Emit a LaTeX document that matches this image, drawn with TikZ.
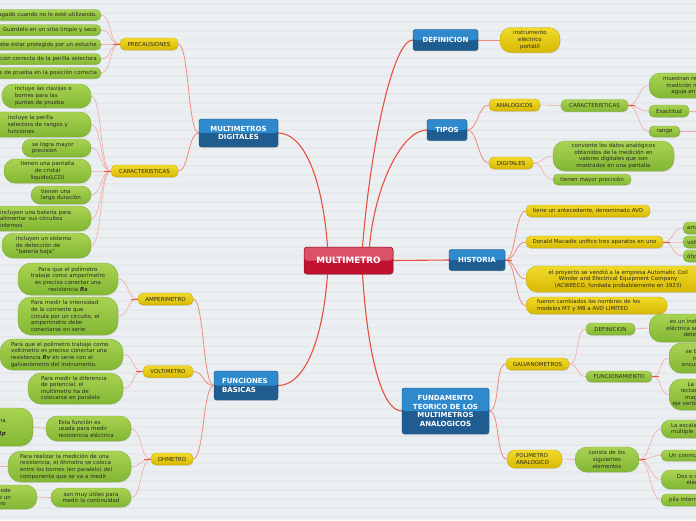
\documentclass[tikz,border=0pt]{standalone}
\usepackage{fontspec}
\setmainfont{DejaVu Sans}
\usetikzlibrary{shadows}
\definecolor{bgc}{HTML}{ECEFF1}
\definecolor{stripec}{HTML}{E6E9EC}
\definecolor{yA}{HTML}{F1DA2C}
\definecolor{yB}{HTML}{D8B902}
\definecolor{yC}{HTML}{C4A600}
\definecolor{gA}{HTML}{A9D352}
\definecolor{gB}{HTML}{82B733}
\definecolor{gC}{HTML}{76A82C}
\definecolor{bA}{HTML}{2F8ACD}
\definecolor{bB}{HTML}{1F5D90}
\definecolor{bC}{HTML}{1A4F7C}
\definecolor{rA}{HTML}{DA5168}
\definecolor{rB}{HTML}{C31231}
\definecolor{rC}{HTML}{8E0C22}
\definecolor{txtc}{HTML}{2A2A22}
\definecolor{mainc}{HTML}{E6503E}
\definecolor{brc}{HTML}{EE8A80}
\definecolor{lkc}{HTML}{F2A9A4}
\pgfdeclarelayer{back}\pgfdeclarelayer{lines}\pgfsetlayers{back,lines,main}
\tikzset{
 nd/.style={inner sep=0pt, text=txtc, font={\fontsize{5.5}{6.6}\selectfont},
   execute at begin node={\hyphenpenalty=10000\exhyphenpenalty=10000},
   drop shadow={opacity=0.22, shadow xshift=0.5pt, shadow yshift=-0.9pt}},
 yel/.style={nd, top color=yA, bottom color=yB, draw=yC, line width=0.3pt, rounded corners=5pt},
 grn/.style={nd, top color=gA, bottom color=gB, draw=gC, line width=0.3pt, rounded corners=5pt},
 blu/.style={nd, fill=bB, draw=bC, line width=0.4pt, rounded corners=2.5pt, text=white,
   font={\fontsize{7}{8.5}\selectfont\bfseries},
   path picture={\fill[bA] (path picture bounding box.north west) rectangle (path picture bounding box.east);}},
 cen/.style={nd, fill=rB, draw=rC, line width=0.5pt, rounded corners=3pt, text=white,
   font={\fontsize{8.8}{10}\selectfont\bfseries},
   path picture={\fill[rA] (path picture bounding box.north west) rectangle (path picture bounding box.east);}},
 mainl/.style={draw=mainc, line width=1.1pt},
 br/.style={draw=brc, line width=0.8pt},
 lk/.style={draw=lkc, line width=0.6pt},
 stub/.style={draw=mainc, line width=0.9pt},
}
\newcommand\MN[8]{\node[#1,minimum width=#4pt,minimum height=#5pt,text width=#6pt,align=#7] (#2) at (#3) {#8};}
\newcommand\LK[3]{\begin{pgfonlayer}{lines}\draw[#1] (#2.west) .. controls +(-11,0) and +(11,0) .. (#3.east);\end{pgfonlayer}}
\newcommand\RK[3]{\begin{pgfonlayer}{lines}\draw[#1] (#2.east) .. controls +(11,0) and +(-11,0) .. (#3.west);\end{pgfonlayer}}
\newcommand\SL[3]{\begin{pgfonlayer}{lines}\draw[#1] (#2) -- (#3);\end{pgfonlayer}}
\newcommand\STW[1]{\begin{pgfonlayer}{lines}\draw[stub] (#1.west) -- ++(-7,0);\end{pgfonlayer}}
\newcommand\STE[1]{\begin{pgfonlayer}{lines}\draw[stub] (#1.east) -- ++(7,0);\end{pgfonlayer}}
\begin{document}
\begin{tikzpicture}[x=1pt,y=-1pt]
\useasboundingbox (0,0) rectangle (696,520);
\begin{pgfonlayer}{back}
\fill[bgc] (0,0) rectangle (696,520);
\foreach \yy in {4,13,...,520} \draw[stripec, line width=1.5pt] (0,\yy) -- (696,\yy);
\end{pgfonlayer}

% central and blue
\MN{cen}{C}{348.5,260.5}{89}{27}{89}{center}{MULTIMETRO}
\MN{blu}{B1}{445.5,40}{65}{21}{65}{center}{DEFINICION}
\MN{blu}{B2}{447,130}{40}{21}{40}{center}{TIPOS}
\MN{blu}{B3}{477,260}{56}{21}{56}{center}{HISTORIA}
\MN{blu}{B4}{445.5,411}{87}{46}{87}{center}{FUNDAMENTO\\TEORICO DE LOS\\MULTIMETROS\\ANALOGICOS}
\MN{blu}{B5}{238.5,133}{79}{28}{79}{center}{MULTIMETROS\\DIGITALES}
\MN{blu}{B6}{246,385.5}{64}{29}{48}{left}{FUNCIONES\\BASICAS}

% yellow
\MN{yel,rounded corners=11pt}{Y1}{530,40}{60}{25}{56}{center}{instrumento\\eléctrico\\portátil}
\MN{yel}{Y2}{514.5,105}{51}{12}{51}{center}{ANALOGICOS}
\MN{yel}{Y3}{511,163}{44}{12}{44}{center}{DIGITALES}
\MN{yel}{Y4}{588,211}{124}{12}{124}{center}{tiene un antecedente, denominado AVO}
\MN{yel}{Y5}{594.5,242}{137}{12}{137}{center}{Donald Macadie unifico tres aparatos en uno}
\MN{yel,anchor=west,rounded corners=11pt}{Y6}{526,279}{184}{26}{170}{center}{el proyecto se vendió a la empresa Automatic Coil\\Winder and Electrical Equipment Company\\(ACWEECO, fundada probablemente en 1923)}
\MN{yel,rounded corners=8pt}{Y7}{596.5,305.5}{141}{17}{119}{left}{fueron cambiados los nombres de los\\modelos M7 y M8 a AVO LIMITED}
\MN{yel}{Y8}{537.5,364}{63}{12}{63}{center}{GALVANOMETROS}
\MN{yel,rounded corners=8pt}{Y9}{534.5,459}{55}{18}{37}{left}{POLIMETRO\\ANALOGICO}
\MN{yel}{Y10}{149,44}{58}{12}{58}{center}{PRECAUSIONES}
\MN{yel}{Y11}{144.5,171}{67}{12}{67}{center}{CARACTERISTICAS}
\MN{yel}{Y12}{165.5,299}{55}{12}{55}{center}{AMPERIMETRO}
\MN{yel}{Y13}{168,371.5}{50}{12}{50}{center}{VOLTIMETRO}
\MN{yel}{Y14}{172,459}{42}{12}{42}{center}{OHMETRO}

% green right
\MN{grn}{G1}{594.5,105.5}{67}{12}{67}{center}{CARACTERISTICAS}
\MN{grn,anchor=west,rounded corners=11pt}{G2}{649,85.5}{100}{25}{90}{center}{muestran resultados de la\\medición mediante una\\aguja en una escala}
\MN{grn}{G3}{669,111}{40}{12}{40}{center}{Exactitud}
\MN{grn}{G4}{664.5,131.5}{31}{11}{31}{center}{rango}
\MN{grn,rounded corners=12pt}{G5}{613.5,156}{121}{30}{115}{center}{convierte los datos analógicos\\obtenidos de la medición en\\valores digitales que son\\mostrados en una pantalla}
\MN{grn}{G6}{592,179.5}{78}{11}{78}{center}{tienen mayor precisión}
\MN{grn,anchor=west}{G7}{683,228}{60}{12}{52}{left}{amperímetro}
\MN{grn,anchor=west}{G8}{683,242}{60}{12}{52}{left}{voltímetro}
\MN{grn,anchor=west}{G9}{683,256}{60}{12}{52}{left}{óhmetro}
\MN{grn}{G10}{610.5,329}{49}{12}{49}{center}{DEFINICION}
\MN{grn,anchor=west,rounded corners=12pt}{G11}{649,328}{92}{28}{84}{center}{es un instrumento\\eléctrica se usa para\\detectar}
\MN{grn}{G12}{619,376.5}{66}{11}{66}{center}{FUNCIONAMIENTO}
\MN{grn,anchor=west,rounded corners=12pt}{G13}{669,358}{70}{30}{64}{center}{se basa en la\\rotación\\encuentra entre}
\MN{grn,anchor=west,rounded corners=12pt}{G14}{669,394.5}{70}{31}{66}{center}{La corriente\\rectangular de la\\magnética de\\eje vertical de la aguja}
\MN{grn,anchor=west,rounded corners=9pt}{G15}{661,429}{90}{18}{70}{left}{La escala graduada\\múltiple}
\MN{grn,anchor=west}{G16}{661,455.5}{146}{11}{130}{left}{Un conmutador de funciones y rangos}
\MN{grn,anchor=west,rounded corners=9pt}{G17}{661,479.5}{90}{19}{84}{center}{Dos o más bornes de\\eléctrica de la}
\MN{grn,anchor=west}{G18}{661,500}{70}{12}{54}{left}{pila interna}
\MN{grn,rounded corners=12pt}{G19}{607,459.5}{64}{25}{60}{center}{consta de los\\siguientes\\elementos}

% green left
\MN{grn,anchor=east}{L1}{101,15}{178}{11}{170}{right}{Mantenlo apagado cuando no lo esté utilizando.}
\MN{grn,anchor=east}{L2}{101,30}{178}{11}{170}{right}{Guárdelo en un sitio limpio y seco}
\MN{grn,anchor=east}{L3}{101,44.5}{178}{11}{170}{right}{Debe estar protegido por un estuche}
\MN{grn,anchor=east}{L4}{101,59}{178}{11}{170}{right}{Verifique la posición correcta de la perilla selectora}
\MN{grn,anchor=east}{L5}{101,73}{178}{11}{170}{right}{Coloque las puntas de prueba en la posición correcta}
\MN{grn,rounded corners=11pt}{L6}{46.5,96}{89}{24}{63}{left}{incluye las clavijas o\\bornes para las\\puntas de prueba}
\MN{grn,rounded corners=11pt}{L7}{40.5,124.5}{101}{25}{65}{left}{incluye la perilla\\selectora de rangos y\\funciones}
\MN{grn,rounded corners=9pt}{L8}{56.5,148}{69}{18}{49}{left}{se logra mayor\\precision}
\MN{grn,rounded corners=11pt}{L9}{47.5,171}{87}{24}{70}{center}{tienen una pantalla\\de cristal\\liquido(LCD)}
\MN{grn,rounded corners=9pt}{L10}{61,195}{60}{18}{40}{left}{tienen una\\larga duración}
\MN{grn,rounded corners=11pt}{L11}{40.5,218.5}{101}{25}{81}{left}{incluyen una batería para\\alimentar sus circuitos\\internos}
\MN{grn,rounded corners=11pt}{L12}{46.5,245.5}{89}{25}{61}{left}{incluyen un sistema\\de detección de\\"batería baja"}
\MN{grn,rounded corners=13pt}{A1}{68,279}{100}{32}{90}{center}{Para que el polímetro\\trabaje como amperímetro\\es preciso conectar una\\resistencia \textbf{\textit{Rs}}}
\MN{grn,rounded corners=13pt}{A2}{68,316}{100}{38}{74}{left}{Para medir la intensidad\\de la corriente que\\circula por un circuito, el\\amperímetro debe\\conectarse en serie}
\MN{grn,rounded corners=13pt}{V1}{61.5,354.5}{123}{31}{101}{left}{Para que el polímetro trabaje como\\voltímetro es preciso conectar una\\resistencia \textbf{\textit{Rv}} en serie con el\\galvanómetro del instrumento.}
\MN{grn,rounded corners=13pt}{V2}{75.5,388.5}{95}{31}{69}{left}{Para medir la diferencia\\de potencial, el\\multímetro ha de\\colocarse en paralelo}
\MN{grn,rounded corners=11pt}{O1}{88.5,428.5}{85}{25}{60}{left}{Esta función es\\usada para medir\\resistencia eléctrica}
\MN{grn,anchor=east,rounded corners=13pt,font={\fontsize{5.5}{13}\selectfont}}{O1b}{33,427}{184}{38}{130}{right}{como óhmetro es preciso conectar una\\resistencia \textbf{\textit{Rp}}}
\MN{grn,rounded corners=13pt}{O2}{69.5,466.5}{123}{31}{99}{left}{Para realizar la medición de una\\resistencia, el óhmetro se coloca\\entre los bornes (en paralelo) del\\componente que se va a medir}
\MN{grn,rounded corners=9pt}{O3}{91,497.5}{80}{19}{70}{center}{son muy útiles para\\medir la continuidad}
\MN{grn,anchor=east,rounded corners=11pt}{O3b}{37,497}{172}{24}{120}{right}{Para saber si un cable puede\hspace*{7pt}\\conducir corriente o si tiene un\\corte en su centro\hspace*{5pt}}

\coordinate (O2x) at (-10,466.5);
\coordinate (G3x) at (705,111);
\coordinate (G4x) at (705,131.5);

% main connectors
\begin{pgfonlayer}{lines}
\draw[mainl] ([xshift=14pt]C.north) .. controls +(8,-100) and +(-20,0) .. (B1.west);
\draw[mainl] ([xshift=21pt]C.north) .. controls +(5,-60) and +(-25,0) .. (B2.west);
\draw[mainl] (C.east) -- (B3.west);
\draw[mainl] ([xshift=14pt]C.south) .. controls +(5,80) and +(-20,0) .. (B4.west);
\draw[mainl] ([xshift=-21pt]C.north) .. controls +(-5,-70) and +(25,0) .. (B5.east);
\draw[mainl] ([xshift=-21pt]C.south) .. controls +(-5,70) and +(25,0) .. (B6.east);
\end{pgfonlayer}

% blue -> yellow
\SL{br}{B1.east}{Y1.west}
\RK{br}{B2}{Y2}\RK{br}{B2}{Y3}
\RK{br}{B3}{Y4}\RK{br}{B3}{Y5}\RK{br}{B3}{Y6}\RK{br}{B3}{Y7}
\RK{br}{B4}{Y8}\RK{br}{B4}{Y9}
\LK{br}{B5}{Y10}\LK{br}{B5}{Y11}
\LK{br}{B6}{Y12}\LK{br}{B6}{Y13}\LK{br}{B6}{Y14}
\STE{B3}

% yellow/green -> green
\SL{lk}{Y2.east}{G1.west}
\RK{lk}{G1}{G2}\RK{lk}{G1}{G3}\RK{lk}{G1}{G4}\STE{G1}
\SL{lk}{G3.east}{G3x}\SL{lk}{G4.east}{G4x}
\RK{lk}{Y3}{G5}\RK{lk}{Y3}{G6}
\RK{lk}{Y5}{G7}\RK{lk}{Y5}{G8}\RK{lk}{Y5}{G9}\STE{Y5}
\RK{lk}{Y8}{G10}\RK{lk}{Y8}{G12}
\SL{lk}{G10.east}{G11.west}
\RK{lk}{G12}{G13}\RK{lk}{G12}{G14}\STE{G12}
\SL{lk}{Y9.east}{G19.west}
\RK{lk}{G19}{G15}\RK{lk}{G19}{G16}\RK{lk}{G19}{G17}\RK{lk}{G19}{G18}\STE{G19}
\LK{lk}{Y10}{L1}\LK{lk}{Y10}{L2}\LK{lk}{Y10}{L3}\LK{lk}{Y10}{L4}\LK{lk}{Y10}{L5}\STW{Y10}
\LK{lk}{Y11}{L6}\LK{lk}{Y11}{L7}\LK{lk}{Y11}{L8}\LK{lk}{Y11}{L9}\LK{lk}{Y11}{L10}\LK{lk}{Y11}{L11}\LK{lk}{Y11}{L12}\STW{Y11}
\LK{lk}{Y12}{A1}\LK{lk}{Y12}{A2}\STW{Y12}
\LK{lk}{Y13}{V1}\LK{lk}{Y13}{V2}\STW{Y13}
\LK{lk}{Y14}{O1}\LK{lk}{Y14}{O2}\LK{lk}{Y14}{O3}\STW{Y14}
\SL{lk}{O1.west}{O1b.east}
\SL{lk}{O2.west}{O2x}
\SL{lk}{O3.west}{O3b.east}
\end{tikzpicture}
\end{document}
